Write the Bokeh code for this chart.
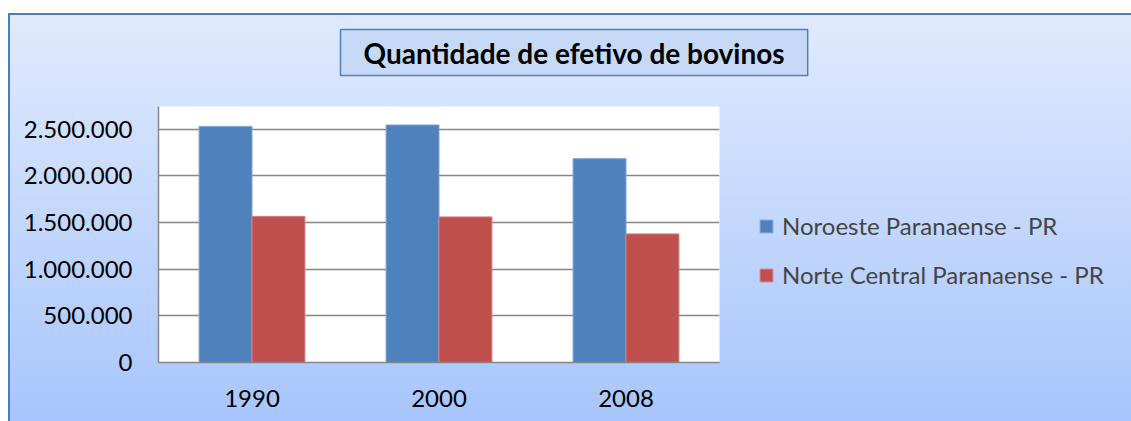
from bokeh.plotting import figure
from bokeh.models import (FactorRange, Range1d, FixedTicker, Legend, LegendItem,
                          ColumnDataSource, Title)
from bokeh.transform import dodge
from bokeh.embed import file_html
from bokeh.resources import INLINE

# ---- data ----
years = ["1990", "2000", "2008"]
noroeste = [2530000, 2545000, 2184000]
norte_central = [1566000, 1560000, 1378000]
series_names = ["Noroeste Paranaense - PR", "Norte Central Paranaense - PR"]
y_ticks = [0, 500000, 1000000, 1500000, 2000000, 2500000]
y_tick_labels = ["0", "500.000", "1.000.000", "1.500.000", "2.000.000", "2.500.000"]
title_text = "Quantidade de efetivo de bovinos"

FONT = "Lato"
BLUE = "#4F81BD"
RED = "#C0504D"
GRID = "#868686"

src = ColumnDataSource(dict(year=years, a=noroeste, b=norte_central))

p = figure(x_range=FactorRange(factors=years, range_padding=0),
           y_range=Range1d(0, 2743000),
           frame_width=561, frame_height=256,
           min_border_left=158, min_border_right=412,
           min_border_top=106, min_border_bottom=59,
           output_backend="svg", toolbar_location=None)

p.border_fill_color = None
p.background_fill_color = "white"
p.outline_line_color = None
p.styles = {
    "background": (
        "linear-gradient(#4a7ebb,#4a7ebb) 8px 13px / 100% 2px no-repeat, "
        "linear-gradient(#4a7ebb,#4a7ebb) 8px 13px / 2px 100% no-repeat, "
        "linear-gradient(to bottom, #E0EAFD, #A6C4FC) 8px 13px / 100% 100% no-repeat, "
        "#ffffff"
    )
}

bw = 0.283
r1 = p.vbar(x=dodge("year", -bw / 2, range=p.x_range), top="a", width=bw, source=src,
            fill_color=BLUE, line_color="#7FA4D3", line_width=1)
r2 = p.vbar(x=dodge("year", bw / 2, range=p.x_range), top="b", width=bw, source=src,
            fill_color=RED, line_color="#D27F7D", line_width=1)

# axes
for ax in (p.xaxis[0], p.yaxis[0]):
    ax.axis_line_color = GRID
    ax.axis_line_width = 1.5
    ax.major_tick_line_color = None
    ax.minor_tick_line_color = None
    ax.major_tick_out = 0
    ax.major_tick_in = 0
    ax.major_label_text_font = FONT
    ax.major_label_text_font_size = "24px"
    ax.major_label_text_color = "black"

p.yaxis.ticker = FixedTicker(ticks=y_ticks)
p.yaxis.major_label_overrides = {t: l for t, l in zip(y_ticks, y_tick_labels)}
p.yaxis.major_label_standoff = 26
p.xaxis.major_label_standoff = 27

p.xgrid.grid_line_color = None
p.ygrid.grid_line_color = GRID
p.ygrid.grid_line_width = 1.5
p.ygrid.ticker = FixedTicker(ticks=y_ticks)

# title
title = Title(text=title_text, align="left", offset=182, vertical_align="top",
              text_font=FONT, text_font_style="bold", text_font_size="28px",
              text_color="black",
              background_fill_color="#C6D9F7",
              border_line_color=BLUE, border_line_width=1.5,
              padding=dict(left=23, right=23, top=6, bottom=6), standoff=58)
p.add_layout(title, "above")

# legend
legend = Legend(items=[LegendItem(label=series_names[0], renderers=[r1]),
                       LegendItem(label=series_names[1], renderers=[r2])],
                location=(39, 73), orientation="vertical",
                background_fill_alpha=0, border_line_color=None,
                label_text_font=FONT, label_text_font_size="24px",
                glyph_width=16, glyph_height=16, label_standoff=8,
                spacing=20, padding=0, margin=0, label_height=28)
p.add_layout(legend, "right")

open("out.html", "w").write(file_html(p, INLINE))
